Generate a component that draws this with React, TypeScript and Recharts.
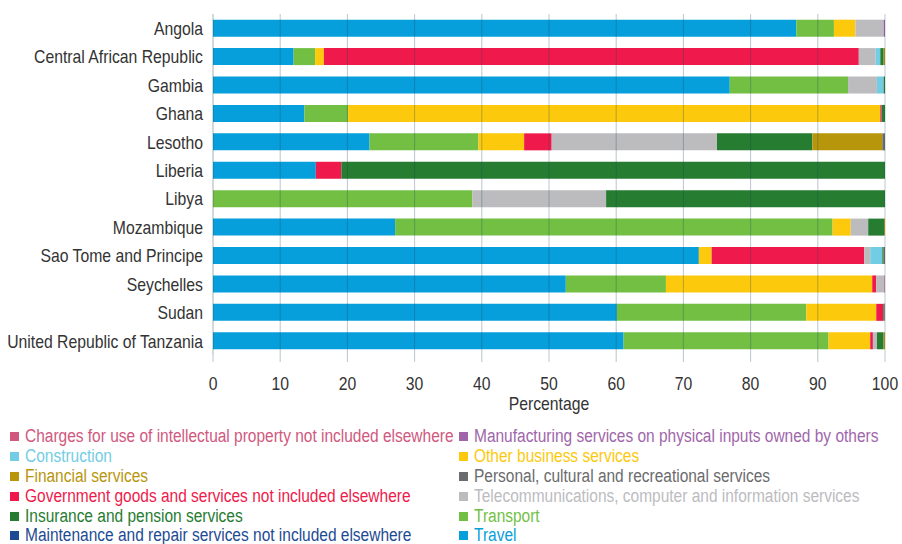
import React from 'react';
import { BarChart, Bar, XAxis, YAxis, ReferenceLine } from 'recharts';

const countries = [
  'Angola',
  'Central African Republic',
  'Gambia',
  'Ghana',
  'Lesotho',
  'Liberia',
  'Libya',
  'Mozambique',
  'Sao Tome and Principe',
  'Seychelles',
  'Sudan',
  'United Republic of Tanzania',
];

const travel = [86.8, 12.0, 76.9, 13.6, 23.3, 15.3, 0, 27.1, 72.3, 52.5, 60.1, 61.1];
const transport = [5.6, 3.2, 17.6, 6.5, 16.2, 0, 38.6, 65.1, 0, 14.9, 28.2, 30.5];
const otherBusiness = [3.2, 1.3, 0, 79.2, 6.8, 0, 0, 2.7, 1.9, 30.7, 10.4, 6.2];
const government = [0, 79.6, 0, 0.2, 4.1, 3.8, 0, 0, 22.7, 0.6, 1.05, 0.4];
const telecom = [4.2, 2.5, 4.3, 0, 24.6, 0, 19.9, 2.6, 0.9, 1.2, 0, 0.6];
const construction = [0, 0.7, 1.0, 0, 0, 0, 0, 0, 1.8, 0, 0, 0];
const insurance = [0, 0.5, 0.2, 0.5, 14.2, 80.9, 41.5, 2.35, 0.2, 0, 0.15, 1.0];
const financial = [0, 0.2, 0, 0, 10.4, 0, 0, 0.15, 0, 0, 0, 0.2];
const personal = [0, 0, 0, 0, 0.4, 0, 0, 0, 0.2, 0, 0.1, 0];
const manufacturing = [0.2, 0, 0, 0, 0, 0, 0, 0, 0, 0, 0, 0];
const charges = [0, 0, 0, 0, 0, 0, 0, 0, 0, 0.1, 0, 0];
const maintenance = [0, 0, 0, 0, 0, 0, 0, 0, 0, 0, 0, 0];

const xTicks = [0, 10, 20, 30, 40, 50, 60, 70, 80, 90, 100];

// stacking order, left to right
const series = [
  { key: 'travel', name: 'Travel', color: '#079fdb', values: travel },
  { key: 'transport', name: 'Transport', color: '#72bf44', values: transport },
  { key: 'otherBusiness', name: 'Other business services', color: '#fdc90c', values: otherBusiness },
  { key: 'government', name: 'Government goods and services not included elsewhere', color: '#ef1a4b', values: government },
  { key: 'telecom', name: 'Telecommunications, computer and information services', color: '#bcbcbf', values: telecom },
  { key: 'construction', name: 'Construction', color: '#72cde4', values: construction },
  { key: 'insurance', name: 'Insurance and pension services', color: '#267c31', values: insurance },
  { key: 'financial', name: 'Financial services', color: '#b8960c', values: financial },
  { key: 'personal', name: 'Personal, cultural and recreational services', color: '#6b6b6d', values: personal },
  { key: 'manufacturing', name: 'Manufacturing services on physical inputs owned by others', color: '#a066aa', values: manufacturing },
  { key: 'charges', name: 'Charges for use of intellectual property not included elsewhere', color: '#d0587e', values: charges },
  { key: 'maintenance', name: 'Maintenance and repair services not included elsewhere', color: '#1d4a93', values: maintenance },
];

const data = countries.map((name, i) => {
  const row: Record<string, string | number> = { name };
  series.forEach((s) => {
    row[s.key] = s.values[i];
  });
  return row;
});

const legendOrder = [...series].sort((a, b) => a.name.localeCompare(b.name));

const FONT = "'Liberation Sans', Arial, sans-serif";
const SQUEEZE = 0.83; // the source uses a condensed face
const LEGEND_SQUEEZE = 0.86;
const GRID = '#1f4257';
const TEXT = '#333';

const YTick = (props: any) => {
  const { x, y, payload } = props;
  return (
    <g transform={`translate(${x},${y})`}>
      <text transform={`scale(${SQUEEZE},1)`} textAnchor="end" dy="0.355em" fontSize={19} fill={TEXT} fontFamily={FONT}>
        {payload.value}
      </text>
    </g>
  );
};

const XTick = (props: any) => {
  const { x, y, payload } = props;
  return (
    <g transform={`translate(${x},${y})`}>
      <text transform={`scale(${SQUEEZE},1)`} textAnchor="middle" dy="0.71em" fontSize={19} fill={TEXT} fontFamily={FONT}>
        {payload.value}
      </text>
    </g>
  );
};

const XLabel = (props: any) => {
  const { x, y, width, height } = props.viewBox;
  return (
    <g transform={`translate(${x + width / 2},${y + height - 10})`}>
      <text transform={`scale(${SQUEEZE},1)`} textAnchor="middle" fontSize={19} fill={TEXT} fontFamily={FONT}>
        Percentage
      </text>
    </g>
  );
};

const App: React.FC = () => {
  const leftCol = legendOrder.slice(0, 6);
  const rightCol = legendOrder.slice(6);
  const renderItem = (s: typeof series[number]) => (
    <div key={s.key} style={{ display: 'flex', alignItems: 'center', height: 19.8, whiteSpace: 'nowrap' }}>
      <span style={{ width: 9, height: 9, background: s.color, display: 'inline-block', marginRight: 6, flex: 'none' }} />
      <span style={{ color: s.color, display: 'inline-block', transform: `scaleX(${LEGEND_SQUEEZE})`, transformOrigin: 'left center' }}>
        {s.name}
      </span>
    </div>
  );
  return (
    <div style={{ position: 'absolute', left: 0, top: 0, width: 902, height: 544, fontFamily: FONT, background: '#fff', overflow: 'hidden' }}>
      <BarChart
        layout="vertical"
        width={902}
        height={420}
        data={data}
        barCategoryGap="20%"
        margin={{ top: 14, right: 17, left: 0, bottom: 0 }}
      >
        <XAxis
          type="number"
          domain={[0, 100]}
          ticks={xTicks}
          interval={0}
          height={65}
          axisLine={false}
          tickLine={{ stroke: GRID, strokeOpacity: 0.3 }}
          tickSize={7}
          tickMargin={14}
          tick={<XTick />}
          label={{ content: (p: any) => <XLabel {...p} /> }}
        />
        <YAxis
          type="category"
          dataKey="name"
          width={213}
          interval={0}
          axisLine={{ stroke: GRID, strokeOpacity: 0.4 }}
          tickLine={false}
          tickMargin={4}
          tick={<YTick />}
        />
        {series.map((s) => (
          <Bar key={s.key} dataKey={s.key} name={s.name} stackId="a" fill={s.color} isAnimationActive={false} />
        ))}
        {xTicks.slice(1).map((t) => (
          <ReferenceLine key={t} x={t} stroke={GRID} strokeOpacity={0.3} />
        ))}
      </BarChart>
      <div style={{ position: 'absolute', left: 10, top: 427, display: 'flex', fontSize: 18 }}>
        <div style={{ width: 449 }}>{leftCol.map(renderItem)}</div>
        <div>{rightCol.map(renderItem)}</div>
      </div>
    </div>
  );
};

export default App;
